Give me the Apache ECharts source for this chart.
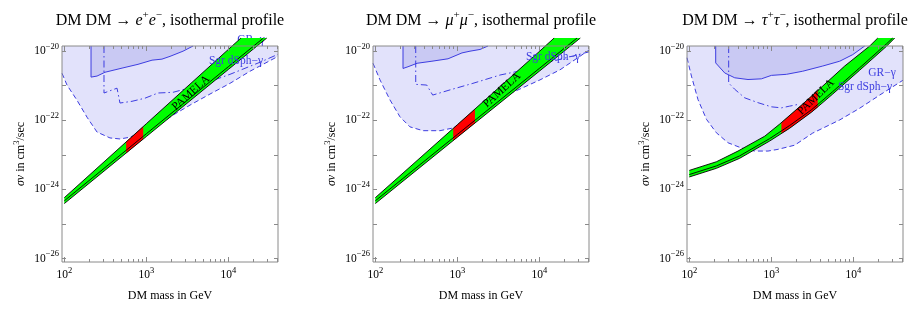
<!DOCTYPE html>
<html><head><meta charset="utf-8">
<script src="https://cdn.jsdelivr.net/npm/echarts@6/dist/echarts.min.js"></script>
<style>html,body{margin:0;padding:0;background:#fff}#c{width:917px;height:314px}</style>
</head><body><div id="c"></div>
<script>
// ---------- DATA (all values are log10: [log10(mass/GeV), log10(sigma v / cm^3 s^-1)]) ----------
const panelTitles = ['e', 'μ', 'τ'];
const xTickLabels = [100, 1000, 10000];
const xMinorTicks = [200,300,400,500,600,700,800,900,2000,3000,4000,5000,6000,7000,8000,9000,20000,30000,40000];
const yTickLabels = [1e-26, 1e-24, 1e-22, 1e-20];
const yTicks = [1e-26, 1e-25, 1e-24, 1e-23, 1e-22, 1e-21, 1e-20];

// panel 1: e+e-
const eDashed = [[1.972,-20.64],[2.033,-20.98],[2.155,-21.42],[2.277,-21.91],[2.399,-22.34],[2.557,-22.51],[2.679,-22.54],[2.801,-22.49],[2.984,-22.28],[3.167,-22.11],[3.326,-21.85],[3.533,-21.56],[3.777,-21.24],[4.021,-20.93],[4.265,-20.58],[4.448,-20.35],[4.606,-20.15]];
const eDark = [[2.326,-19.85],[2.326,-20.75],[2.399,-20.72],[2.496,-20.61],[2.704,-20.49],[2.899,-20.38],[3.070,-20.26],[3.191,-20.23],[3.289,-20.15],[3.448,-20.0],[3.570,-19.85]];
const eDashDot = [[2.484,-19.85],[2.484,-21.21],[2.643,-21.07],[2.679,-21.50],[2.826,-21.45],[2.984,-21.36],[3.143,-21.21],[3.326,-21.19],[3.655,-20.98],[4.02,-20.67],[4.387,-20.32],[4.606,-20.09]];
const eBandUpper = [[2.0,-24.24],[3.0,-22.10],[4.0,-19.95],[4.154,-19.62]];
const eBandMid = [[2.0,-24.33],[3.0,-22.39],[4.0,-20.45],[4.428,-19.62]];
const eBandLower = [[2.0,-24.41],[3.0,-22.47],[4.0,-20.53],[4.469,-19.62]];
const eRed = [[2.754,-22.62],[2.962,-22.18],[2.962,-22.54],[2.754,-22.95]];

// panel 2: mu+mu-
const muDashed = [[1.972,-20.35],[2.057,-20.83],[2.179,-21.41],[2.301,-21.90],[2.423,-22.19],[2.582,-22.30],[2.789,-22.30],[2.932,-22.23],[3.278,-21.85],[3.602,-21.27],[4.009,-20.83],[4.252,-20.54],[4.606,-19.97]];
const muDark = [[2.338,-19.85],[2.338,-20.50],[2.399,-20.45],[2.509,-20.35],[2.691,-20.29],[2.887,-20.22],[3.057,-20.05],[3.155,-20.0],[3.277,-19.95],[3.374,-19.85]];
const muDashDot = [[2.493,-19.85],[2.493,-20.96],[2.627,-20.98],[2.700,-21.27],[2.911,-21.12],[3.191,-20.93],[3.521,-20.69],[3.724,-20.59],[4.130,-20.31],[4.606,-20.02]];
const muBandUpper = [[2.0,-24.24],[3.0,-22.13],[4.0,-20.01],[4.18,-19.62]];
const muBandMid = [[2.0,-24.33],[3.0,-22.41],[4.0,-20.50],[4.46,-19.62]];
const muBandLower = [[2.0,-24.41],[3.0,-22.49],[4.0,-20.58],[4.50,-19.62]];
const muRed = [[2.95,-22.23],[3.215,-21.67],[3.215,-22.08],[2.95,-22.59]];

// panel 3: tau+tau-
const tauDashed = [[1.972,-20.19],[2.026,-20.72],[2.106,-21.40],[2.209,-21.97],[2.330,-22.36],[2.472,-22.65],[2.635,-22.80],[2.798,-22.89],[2.960,-22.89],[3.082,-22.84],[3.285,-22.72],[3.505,-22.37],[3.834,-21.99],[4.078,-21.65],[4.322,-21.27],[4.606,-20.84]];
const tauDark = [[2.322,-19.85],[2.322,-20.34],[2.432,-20.63],[2.554,-20.77],[2.716,-20.82],[2.879,-20.80],[3.001,-20.70],[3.184,-20.67],[3.383,-20.58],[3.627,-20.43],[3.834,-20.29],[3.993,-20.10],[4.139,-19.85]];
const tauDashDot = [[2.480,-19.85],[2.480,-20.92],[2.553,-21.10],[2.676,-21.35],[2.838,-21.49],[3.001,-21.61],[3.123,-21.64],[3.224,-21.59],[3.346,-21.53]];
const tauBandUpper = [[2.0,-23.45],[2.330,-23.20],[2.594,-22.89],[2.920,-22.46],[3.102,-22.11],[3.383,-21.53],[3.627,-21.01],[3.895,-20.43],[4.200,-19.85],[4.298,-19.62]];
const tauBandMid = [[2.0,-23.57],[2.330,-23.32],[2.614,-23.03],[2.980,-22.53],[3.224,-22.15],[3.493,-21.69],[3.749,-21.17],[4.078,-20.48],[4.404,-19.79],[4.48,-19.62]];
const tauBandLower = [[2.0,-23.64],[2.330,-23.39],[2.614,-23.10],[2.980,-22.60],[3.224,-22.23],[3.493,-21.76],[3.749,-21.24],[4.078,-20.55],[4.404,-19.86],[4.505,-19.62]];
const tauRed = [[3.123,-22.07],[3.383,-21.53],[3.566,-21.14],[3.566,-21.62],[3.493,-21.76],[3.224,-22.23],[3.123,-22.38]];

// ---------- STYLE / LAYOUT ----------
const SERIF = '"Liberation Serif", "DejaVu Serif", serif';
const FRAME = '#8a8a8a';
const BLUE = '#3d3de0';
const LIGHT = '#e2e2fb';
const DARK = '#c9c9f3';
const X_MIN = 1.972, X_MAX = 4.606, Y_MIN = -26.1, Y_MAX = -19.85;
const gridLefts = [62, 373, 687];
const GT = 46, GW = 216, GH = 216;

const panels = [
  {dashed: eDashed, dark: eDark, dashdot: eDashDot, up: eBandUpper, mid: eBandMid, lo: eBandLower, red: eRed},
  {dashed: muDashed, dark: muDark, dashdot: muDashDot, up: muBandUpper, mid: muBandMid, lo: muBandLower, red: muRed},
  {dashed: tauDashed, dark: tauDark, dashdot: tauDashDot, up: tauBandUpper, mid: tauBandMid, lo: tauBandLower, red: tauRed}
];

const L = Math.log10;
const xMajorV = xTickLabels.map(L);
const xMinorV = xMinorTicks.map(L);
const yLabelV = yTickLabels.map(v => Math.round(L(v)));
const yTickV = yTicks.map(v => Math.round(L(v)));

const tickRich = {
  b: {fontSize: 11.5, fontFamily: SERIF, color: '#000'},
  s: {fontSize: 8.5, fontFamily: SERIF, color: '#000', padding: [0, 0, 9, 0]}
};
function expLabel(v) {
  const n = Math.round(v);
  return '{b|10}{s|' + (n < 0 ? '\u2212' + (-n) : n) + '}';
}

const grids = [], xAxes = [], yAxes = [], series = [], graphics = [];

panels.forEach((p, g) => {
  grids.push({left: gridLefts[g], top: GT, width: GW, height: GH, show: true, borderColor: FRAME, borderWidth: 1, backgroundColor: 'transparent', z: 10});
  const xb = {gridIndex: g, type: 'value', min: X_MIN, max: X_MAX, axisLine: {show: false}, splitLine: {show: false}, z: 10};
  const tl = {color: FRAME, width: 1};
  xAxes.push(Object.assign({}, xb, {position: 'bottom', axisTick: {inside: true, length: 5, customValues: xMajorV, lineStyle: tl},
    axisLabel: {customValues: xMajorV, formatter: expLabel, rich: tickRich, margin: 4}}));
  xAxes.push(Object.assign({}, xb, {position: 'bottom', axisTick: {inside: true, length: 3, customValues: xMinorV, lineStyle: tl}, axisLabel: {show: false}}));
  xAxes.push(Object.assign({}, xb, {position: 'top', axisTick: {inside: true, length: 5, customValues: xMajorV, lineStyle: tl}, axisLabel: {show: false}}));
  xAxes.push(Object.assign({}, xb, {position: 'top', axisTick: {inside: true, length: 3, customValues: xMinorV, lineStyle: tl}, axisLabel: {show: false}}));
  const yb = {gridIndex: g, type: 'value', min: Y_MIN, max: Y_MAX, axisLine: {show: false}, splitLine: {show: false}, z: 10};
  yAxes.push(Object.assign({}, yb, {position: 'left', axisTick: {inside: true, length: 4, customValues: yTickV, lineStyle: tl},
    axisLabel: {customValues: yLabelV, formatter: expLabel, rich: tickRich, margin: 3}}));
  yAxes.push(Object.assign({}, yb, {position: 'right', axisTick: {inside: true, length: 4, customValues: yTickV, lineStyle: tl}, axisLabel: {show: false}}));

  const xi = g * 4, yi = g * 2;
  const line = (data, ls, z, extra) => Object.assign({type: 'line', xAxisIndex: xi, yAxisIndex: yi, data, symbol: 'none', silent: true, z, lineStyle: ls}, extra || {});
  const poly = (pts, fill, z) => ({type: 'custom', xAxisIndex: xi, yAxisIndex: yi, data: pts, silent: true, z, clip: false,
    renderItem: (params, api) => {
      if (params.dataIndex !== 0) return null;
      return {type: 'polygon', shape: {points: pts.map(q => api.coord(q))}, style: {fill: fill, stroke: null}};
    }});

  series.push(line(p.dashed, {color: BLUE, width: 1, type: [5, 3]}, 1, {areaStyle: {color: LIGHT, opacity: 1, origin: 'end'}}));
  series.push(line(p.dark, {color: BLUE, width: 1}, 2, {areaStyle: {color: DARK, opacity: 1, origin: 'end'}}));
  series.push(line(p.dashdot, {color: BLUE, width: 1, type: [7, 3, 1.5, 3]}, 3));
  const bandPoly = p.up.concat(p.lo.slice().reverse());
  series.push(poly(bandPoly, '#00ff00', 5));
  series.push(poly(p.red, '#ff0000', 6));
  [p.up, p.mid, p.lo].forEach(d => series.push(line(d, {color: '#000', width: 0.9}, 7, {clip: false})));

  const cx = gridLefts[g] + GW / 2;
  const sym = panelTitles[g];
  graphics.push({type: 'text', x: cx, y: 21, z: 20, style: {
    text: '{r|DM DM \u2192 }{i|' + sym + '}{p|+}{i|' + sym + '}{p|\u2212}{r|, isothermal profile}',
    align: 'center', verticalAlign: 'middle',
    rich: {r: {fontSize: 16, fontFamily: SERIF, fill: '#000'}, i: {fontSize: 16, fontFamily: SERIF, fontStyle: 'italic', fill: '#000'},
      p: {fontSize: 11, fontFamily: SERIF, fill: '#000', padding: [0, 0, 12, 0]}}}});
  graphics.push({type: 'text', x: cx, y: 296, z: 20, style: {text: 'DM mass in GeV', align: 'center', verticalAlign: 'middle', fontSize: 12, fontFamily: SERIF, fill: '#000'}});
  graphics.push({type: 'text', x: gridLefts[g] - 41, y: GT + GH / 2, rotation: Math.PI / 2, z: 20, style: {
    text: '{i|\u03c3v}{r| in cm}{p|3}{r|/sec}', align: 'center', verticalAlign: 'middle',
    rich: {r: {fontSize: 12, fontFamily: SERIF, fill: '#000'}, i: {fontSize: 12, fontFamily: SERIF, fontStyle: 'italic', fill: '#000'},
      p: {fontSize: 8.5, fontFamily: SERIF, fill: '#000', padding: [0, 0, 8, 0]}}}});
});

// annotations (pixel placement of text labels)
const annot = [
  {t: 'PAMELA', x: 191, y: 93, r: 42, c: '#000', z: 20},
  {t: 'Sgr dSph\u2212\u03b3', x: 236, y: 61, r: 0, c: BLUE, z: 8},
  {t: 'GR\u2212\u03b3', x: 251, y: 40, r: 0, c: BLUE, z: 4},
  {t: 'PAMELA', x: 502, y: 90, r: 42, c: '#000', z: 20},
  {t: 'Sgr dSph\u2212\u03b3', x: 553, y: 57, r: 0, c: BLUE, z: 8},
  {t: 'PAMELA', x: 816, y: 97, r: 44, c: '#000', z: 20},
  {t: 'Sgr dSph\u2212\u03b3', x: 865, y: 87, r: 0, c: BLUE, z: 8},
  {t: 'GR\u2212\u03b3', x: 882, y: 73, r: 0, c: BLUE, z: 8}
];
annot.forEach(a => graphics.push({type: 'text', x: a.x, y: a.y, rotation: a.r * Math.PI / 180, z: a.z,
  style: {text: a.t, align: 'center', verticalAlign: 'middle', fontSize: 11.5, fontFamily: SERIF, fill: a.c}}));

const chart = echarts.init(document.getElementById('c'), null, {renderer: 'canvas'});
chart.setOption({
  animation: false,
  backgroundColor: '#fff',
  grid: grids, xAxis: xAxes, yAxis: yAxes, series: series, graphic: graphics
});
</script></body></html>
